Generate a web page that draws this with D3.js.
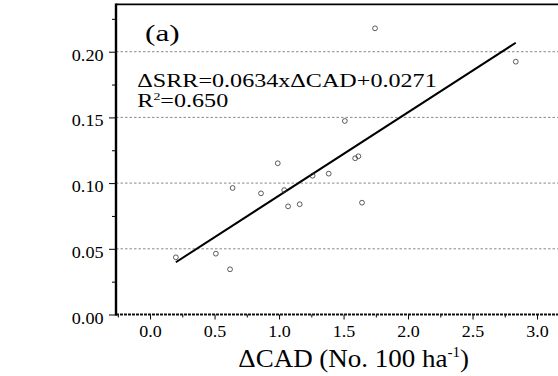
<!DOCTYPE html>
<html><head><meta charset="utf-8">
<script src="https://cdn.jsdelivr.net/npm/d3@7"></script>
<style>
html,body{margin:0;padding:0;background:#fff;}
svg{display:block;}
svg text{font-family:"Liberation Serif","Times New Roman",serif;}
</style></head>
<body><svg id="c" width="558" height="376"></svg>
<script>
// Data
const cad = [0.20,0.51,0.62,0.64,0.86,0.99,1.04,1.07,1.16,1.26,1.385,1.51,1.59,1.615,1.643,1.744,2.835];
const srr = [0.0435,0.0463,0.0344,0.0963,0.0922,0.1151,0.0947,0.0823,0.0839,0.1056,0.1072,0.1473,0.1189,0.1204,0.0851,0.2178,0.1924];
const fitCoef = [0.0634, 0.0271]; // slope, intercept
const xTicks = [0.0,0.5,1.0,1.5,2.0,2.5,3.0];
const xMinorTicks = [-0.25,0.25,0.75,1.25,1.75,2.25,2.75,3.25];
const yTicks = [0.00,0.05,0.10,0.15,0.20];
const yMinorTicks = [0.025,0.075,0.125,0.175,0.225];
const panelLabel = ["(a)"];
const eqLines = ["ΔSRR=0.0634xΔCAD+0.0271"];
const r2Parts = ["R", "2", "=0.650"];
const xTitle = ["ΔCAD (No. 100 ha", "-1", ")"];

const svg = d3.select("#c");
const L = 116, T = 4.4, B = 314.5, R = 580;
const x = d3.scaleLinear().domain([-0.264, 3.333]).range([L, R]);
const y = d3.scaleLinear().domain([0, 0.236]).range([B, T]);

// gridlines
svg.append("g").selectAll("line").data(yTicks.filter(d=>d>0)).join("line")
  .attr("x1", L).attr("x2", 558).attr("y1", d=>y(d)).attr("y2", d=>y(d))
  .attr("stroke", "#8a8a8a").attr("stroke-width", 1).attr("stroke-dasharray", "2.5,2");

// top border
svg.append("line").attr("x1", L).attr("x2", 558).attr("y1", T).attr("y2", T)
  .attr("stroke", "#000").attr("stroke-width", 1.6);

// x axis
const gx = svg.append("g").attr("transform", `translate(0,${B})`);
gx.call(d3.axisBottom(x).tickValues(xTicks).tickSize(5).tickPadding(5).tickFormat(d3.format(".1f")));
gx.attr("font-family", null);
gx.select(".domain").remove();
gx.selectAll(".tick line").attr("stroke", "#000").attr("stroke-width", 1);
gx.selectAll("text").style("font-size", "17px").attr("fill", "#000")
  .style("font-family", '"Liberation Serif", serif')
  .attr("transform", "scale(1.06,1)");
const gxm = svg.append("g").attr("transform", `translate(0,${B})`);
gxm.call(d3.axisBottom(x).tickValues(xMinorTicks).tickSize(3).tickFormat(""));
gxm.select(".domain").remove();
gxm.selectAll(".tick line").attr("stroke", "#000");
// x axis line (dark dashed)
svg.append("line").attr("x1", L).attr("x2", 558).attr("y1", B).attr("y2", B)
  .attr("stroke", "#111").attr("stroke-width", 2).attr("stroke-dasharray", "3,1");

// y axis
const gy = svg.append("g").attr("transform", `translate(${L},0)`);
gy.call(d3.axisLeft(y).tickValues(yTicks).tickSize(7).tickPadding(4.6).tickFormat(d3.format(".2f")));
gy.attr("font-family", null);
gy.select(".domain").remove();
gy.selectAll(".tick line").attr("stroke", "#000").attr("stroke-width", 1);
gy.selectAll("text").style("font-size", "17px").attr("fill", "#000").attr("dy", "0.5em")
  .style("font-family", '"Liberation Serif", serif')
  .attr("transform", "scale(1.07,1)");
const gym = svg.append("g").attr("transform", `translate(${L},0)`);
gym.call(d3.axisLeft(y).tickValues(yMinorTicks).tickSize(4).tickFormat(""));
gym.select(".domain").remove();
gym.selectAll(".tick line").attr("stroke", "#000");
svg.append("line").attr("x1", L).attr("x2", L).attr("y1", T - 0.8).attr("y2", B + 1)
  .attr("stroke", "#000").attr("stroke-width", 2.4);

// regression line
const xr = d3.extent(cad);
svg.append("line")
  .attr("x1", x(xr[0])).attr("y1", y(fitCoef[0]*xr[0]+fitCoef[1]))
  .attr("x2", x(xr[1])).attr("y2", y(fitCoef[0]*xr[1]+fitCoef[1]))
  .attr("stroke", "#000").attr("stroke-width", 2);

// points
svg.append("g").selectAll("circle").data(cad.map((c,i)=>[c,srr[i]])).join("circle")
  .attr("cx", d=>x(d[0])).attr("cy", d=>y(d[1])).attr("r", 2.4)
  .attr("fill", "none").attr("stroke", "#333").attr("stroke-width", 0.8);

// panel label
svg.append("text").attr("transform", "translate(145,40.5) scale(1.3,1)")
  .style("font-size", "24px").text(panelLabel[0]);

// equation
svg.append("text").attr("transform", "translate(137.3,86.5) scale(1.27,1)")
  .style("font-size", "19px").text(eqLines[0]);
const r2 = svg.append("text").attr("transform", "translate(137.3,107.2) scale(1.27,1)")
  .style("font-size", "19px");
r2.append("tspan").text(r2Parts[0]);
r2.append("tspan").style("font-size", "11px").attr("dy", -7).text(r2Parts[1]);
r2.append("tspan").attr("dy", 7).text(r2Parts[2]);

// x title
const xt = svg.append("text").attr("transform", "translate(353.7,366.5) scale(1.08,1)")
  .attr("text-anchor", "middle").style("font-size", "25px");
xt.append("tspan").text(xTitle[0]);
xt.append("tspan").style("font-size", "14px").attr("dy", -10).text(xTitle[1]);
xt.append("tspan").attr("dy", 10).text(xTitle[2]);
</script></body></html>
